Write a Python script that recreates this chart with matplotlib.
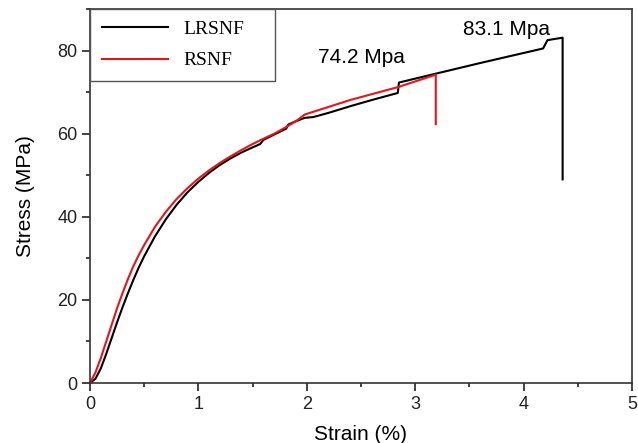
import numpy as np
from matplotlib import pyplot as plt
from matplotlib.ticker import MultipleLocator

plt.rcParams['font.family'] = ['Liberation Sans', 'DejaVu Sans']

# LRSNF (black)
lrsnf_strain = [0, 0.05, 0.1, 0.15, 0.2, 0.25, 0.3, 0.35, 0.4, 0.45, 0.5, 0.6, 0.7,
                0.8, 0.9, 1.0, 1.1, 1.2, 1.3, 1.4, 1.5, 1.57, 1.6, 1.7, 1.81, 1.83,
                1.9, 1.98, 2.06, 2.2, 2.4, 2.6, 2.84, 2.85, 3.2, 3.6, 4.18, 4.22,
                4.36, 4.36]
lrsnf_stress = [0, 1.0, 3.5, 7.0, 10.8, 14.6, 18.2, 21.6, 24.8, 27.8, 30.5, 35.3, 39.4,
                42.9, 45.9, 48.4, 50.6, 52.5, 54.1, 55.5, 56.7, 57.5, 58.5, 59.8, 61.2, 62.2,
                63.0, 63.8, 64.0, 65.0, 66.6, 68.1, 69.8, 72.3, 74.5, 77.0, 80.5, 82.5,
                83.1, 49.0]

# RSNF (red)
rsnf_strain = [0, 0.05, 0.1, 0.15, 0.2, 0.25, 0.3, 0.35, 0.4, 0.45, 0.5, 0.6, 0.7,
               0.8, 0.9, 1.0, 1.1, 1.2, 1.3, 1.4, 1.5, 1.6, 1.7, 1.81, 1.9, 1.98,
               2.1, 2.4, 2.84, 2.98, 3.19, 3.19]
rsnf_stress = [0, 2.5, 6.0, 10.0, 14.0, 18.0, 21.6, 25.0, 28.1, 30.8, 33.2, 37.6, 41.2,
               44.3, 46.9, 49.2, 51.2, 53.0, 54.6, 56.1, 57.5, 58.8, 60.0, 61.6, 63.0, 64.6,
               65.6, 68.1, 71.2, 72.4, 74.2, 62.3]

fig = plt.figure(figsize=(6.38, 4.43), dpi=100)
ax = fig.add_axes([0.141, 0.1354, 0.8496, 0.8443])

ax.plot(lrsnf_strain, lrsnf_stress, c='black', lw=1.5, label='LRSNF')
ax.plot(rsnf_strain, rsnf_stress, c='#e8141b', lw=1.5, label='RSNF')

ax.text(3.44, 85, '83.1 Mpa', fontsize=15, va='center')
ax.text(2.1, 78.3, '74.2 Mpa', fontsize=15, va='center')

ax.set_xlim(0, 5)
ax.set_ylim(0, 90)
ax.xaxis.set_major_locator(MultipleLocator(1))
ax.xaxis.set_minor_locator(MultipleLocator(0.5))
ax.yaxis.set_major_locator(MultipleLocator(20))
ax.yaxis.set_minor_locator(MultipleLocator(10))
ax.tick_params(which='major', direction='out', length=5.5, width=1.2, labelsize=13,
               colors='#222222')
ax.tick_params(which='minor', direction='out', length=3, width=1.2, colors='#222222')
for s in ax.spines.values():
    s.set_linewidth(1.2)
    s.set_color('#333333')

ax.set_xlabel('Strain (%)', fontsize=15, labelpad=9)
ax.set_ylabel('Stress (MPa)', fontsize=15, labelpad=16)

leg = ax.legend(loc='upper left', bbox_to_anchor=(0.0, 0.0, 0.341, 1.0), mode='expand',
                fancybox=False, framealpha=1, edgecolor='#555555', borderaxespad=0,
                prop={'family': 'Liberation Serif', 'size': 14},
                handlelength=3.4, handletextpad=0.8, labelspacing=0.7, borderpad=0.6)
leg.get_frame().set_linewidth(1.0)

plt.savefig('out.png', dpi=100)
